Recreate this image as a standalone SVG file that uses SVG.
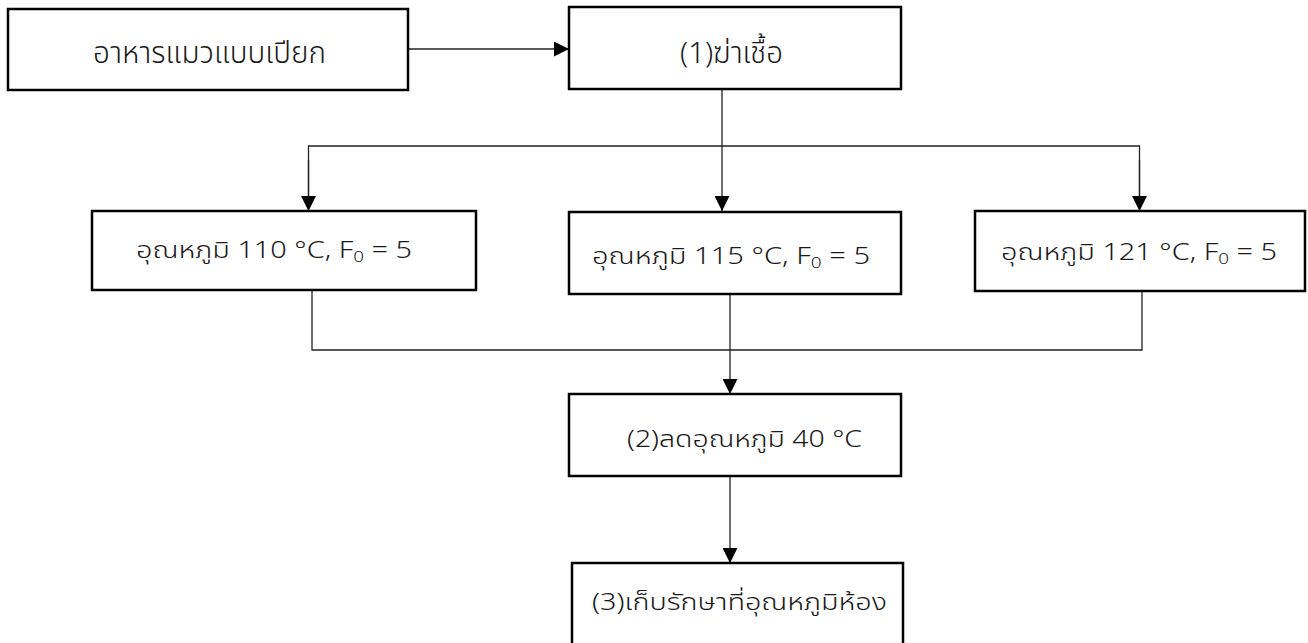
<svg xmlns="http://www.w3.org/2000/svg" width="1308" height="643" viewBox="0 0 1308 643">
  <defs>
    <marker id="arrow" viewBox="0 0 15 15" refX="15" refY="7.5" markerWidth="15" markerHeight="15" markerUnits="userSpaceOnUse" orient="auto">
      <path d="M0,0 L15,7.5 L0,15 Z" fill="#000"/>
    </marker>
    <style>
      .box { fill: #fff; stroke: #000; stroke-width: 2.5; }
      .lbl { font-family: "Noto Sans Thai", "Noto Sans", "DejaVu Sans", sans-serif; font-size: 23px; font-weight: 300; fill: #1a1a1a; }
      .lbl-narrow { font-family: "Noto Sans Thai", "Noto Sans", "DejaVu Sans", sans-serif; font-size: 30px; font-weight: 300; fill: #1a1a1a; }
      .sub { font-size: 15px; }
      .wire { fill: none; stroke: #222; stroke-width: 1.3; }
    </style>
  </defs>
  <rect width="1308" height="643" fill="#fff"/>

  <!-- connectors -->
  <g id="connectors">
    <line class="wire" x1="408" y1="49" x2="569" y2="49" marker-end="url(#arrow)"/>
    <line class="wire" x1="722" y1="89" x2="722" y2="211" marker-end="url(#arrow)"/>
    <polyline class="wire" points="308.5,200 308.5,146 1139.5,146 1139.5,200"/>
    <line class="wire" x1="308.5" y1="160" x2="308.5" y2="211" marker-end="url(#arrow)"/>
    <line class="wire" x1="1139.5" y1="160" x2="1139.5" y2="211" marker-end="url(#arrow)"/>
    <polyline class="wire" points="312,290 312,350 1142,350 1142,291"/>
    <line class="wire" x1="730" y1="294" x2="730" y2="394" marker-end="url(#arrow)"/>
    <line class="wire" x1="730" y1="476" x2="730" y2="563" marker-end="url(#arrow)"/>
  </g>

  <!-- wet cat food -->
  <g id="node-food">
    <rect class="box" x="8" y="9" width="400" height="81"/>
    <text class="lbl-narrow" x="93" y="63" textLength="233" lengthAdjust="spacingAndGlyphs">อาหารแมวแบบเปียก</text>
  </g>

  <!-- step 1: sterilise -->
  <g id="node-sterilise">
    <rect class="box" x="569" y="7" width="332" height="82"/>
    <text class="lbl-narrow" x="680" y="63" textLength="103" lengthAdjust="spacingAndGlyphs">(1)ฆ่าเชื้อ</text>
  </g>

  <!-- 110 °C -->
  <g id="node-t110">
    <rect class="box" x="92" y="211" width="384" height="79"/>
    <text class="lbl" x="136" y="258" textLength="276" lengthAdjust="spacingAndGlyphs">อุณหภูมิ 110 °C, F<tspan class="sub" dy="4">0</tspan><tspan dy="-4"> = 5</tspan></text>
  </g>

  <!-- 115 °C -->
  <g id="node-t115">
    <rect class="box" x="569" y="212" width="332" height="82"/>
    <text class="lbl" x="592" y="264" textLength="278" lengthAdjust="spacingAndGlyphs">อุณหภูมิ 115 °C, F<tspan class="sub" dy="4">0</tspan><tspan dy="-4"> = 5</tspan></text>
  </g>

  <!-- 121 °C -->
  <g id="node-t121">
    <rect class="box" x="975" y="211" width="330" height="80"/>
    <text class="lbl" x="1001" y="260" textLength="276" lengthAdjust="spacingAndGlyphs">อุณหภูมิ 121 °C, F<tspan class="sub" dy="4">0</tspan><tspan dy="-4"> = 5</tspan></text>
  </g>

  <!-- step 2: cool down -->
  <g id="node-cool">
    <rect class="box" x="569" y="394" width="332" height="82"/>
    <text class="lbl" x="627" y="447" textLength="235" lengthAdjust="spacingAndGlyphs">(2)ลดอุณหภูมิ 40 °C</text>
  </g>

  <!-- step 3: store -->
  <g id="node-store">
    <rect class="box" x="572" y="563" width="331" height="90"/>
    <text class="lbl" x="592" y="610" textLength="295" lengthAdjust="spacingAndGlyphs">(3)เก็บรักษาที่อุณหภูมิห้อง</text>
  </g>
</svg>
